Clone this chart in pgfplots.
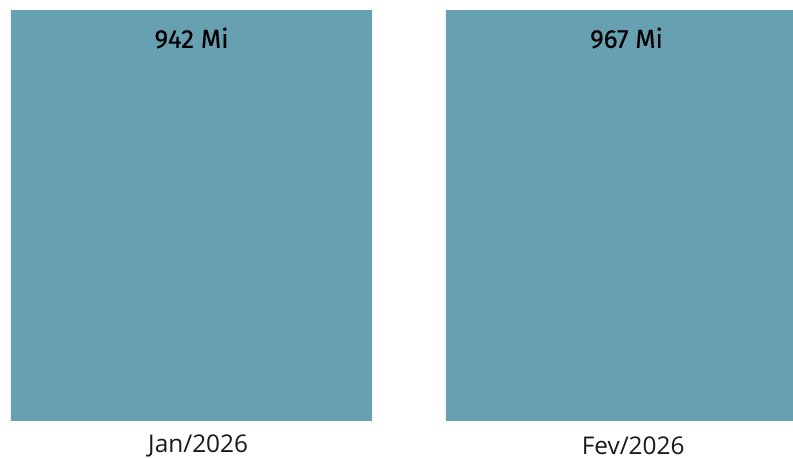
\documentclass[border=0pt]{standalone}
\usepackage{fontspec}
\setmainfont{Open Sans}
\newfontfamily\valfont[FakeBold=0.3]{Fira Sans}
\usepackage{pgfplots}
\pgfplotsset{compat=1.18}
\definecolor{barc}{HTML}{67A0B1}
\begin{document}
\begin{tikzpicture}
\useasboundingbox (0,-28.5pt) rectangle (594.75pt,315.75pt);
\begin{axis}[
  scale only axis,
  width=594.75pt, height=308.25pt,
  xmin=-0.4402, xmax=1.3828,
  ymin=0, ymax=940,
  axis line style={draw=none},
  ytick=\empty,
  xtick={0,1},
  xticklabels={Jan/2026, Fev/2026},
  major tick length=0pt,
  xticklabel style={anchor=center, yshift=-18.5pt, xshift=5pt, font=\fontsize{18.3}{21}\selectfont, text=black!90},
  ybar, bar width=0.83,
  clip=true,
]
\addplot[fill=barc, draw=none] coordinates {(0,942) (1,967)};
\node[anchor=center, yshift=-21pt, font=\valfont\fontsize{19.5}{22}\selectfont] at (axis cs:0,940) {942 Mi};
\node[anchor=center, yshift=-21pt, font=\valfont\fontsize{19.5}{22}\selectfont] at (axis cs:1,940) {967 Mi};
\end{axis}
\end{tikzpicture}
\end{document}
